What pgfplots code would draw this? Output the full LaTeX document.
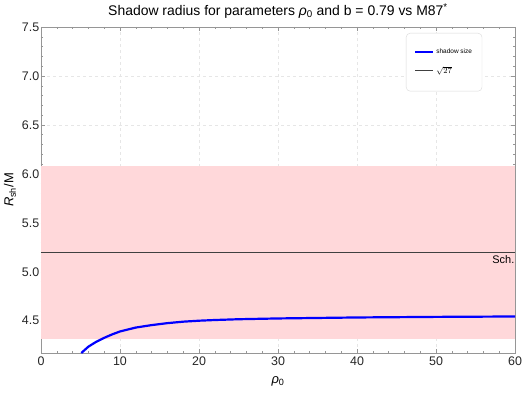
\documentclass[border=0pt]{standalone}
\usepackage{fontspec}
\setmainfont{Liberation Sans}
\usepackage{pgfplots}
\pgfplotsset{compat=1.18}
\definecolor{bandpink}{RGB}{255,216,218}
\definecolor{framegray}{RGB}{150,150,150}
\definecolor{gridgray}{RGB}{230,230,230}
\begin{document}
\begin{tikzpicture}
\begin{axis}[
  scale only axis,
  width=474bp, height=326bp,
  xmin=0, xmax=60, ymin=4.17, ymax=7.5,
  xtick={0,10,...,60},
  ytick={4.5,5.0,...,7.5},
  yticklabel style={/pgf/number format/fixed, /pgf/number format/fixed zerofill,
    /pgf/number format/precision=1, inner xsep=1.5bp},
  /pgf/number format/assume math mode=true,
  minor x tick num=4, minor y tick num=4,
  tick align=inside,
  major tick length=4bp, minor tick length=2.5bp,
  axis line style={framegray},
  every tick/.style={framegray},
  grid=major,
  major grid style={gridgray, dash pattern=on 3bp off 3bp},
  tick label style={font=\fontsize{12.5}{14}\selectfont, text=black!85},
  title={Shadow radius for parameters \textit{ρ}\textsubscript{0} and b = 0.79 vs M87\textsuperscript{*}},
  title style={font=\fontsize{14}{16}\selectfont, at={(axis description cs:0.5,1)}, anchor=center, yshift=10bp},
  xlabel={\textit{ρ}\textsubscript{0}},
  ylabel={\textit{R}\textsubscript{sh}/M},
  label style={font=\fontsize{13}{15}\selectfont},
  xlabel style={at={(axis description cs:0.5,0)}, anchor=center, yshift=-28bp},
  ylabel style={at={(axis description cs:-0.0655,0.5)}, anchor=center},
  legend style={at={(axis description cs:0.770,0.9816)}, anchor=north west,
    draw=black!15, rounded corners=4bp,
    font=\fontsize{6.5}{7.5}\selectfont, inner xsep=8bp, inner ysep=14bp, row sep=7bp,
    cells={anchor=west}},
  legend image code/.code={\draw[#1] (0bp,0bp) -- (18bp,0bp);},
  legend cell align=left,
]
\fill[bandpink] (axis cs:0,4.31) rectangle (axis cs:60,6.08);
\addplot[blue, line width=2.2bp, forget plot] coordinates {
 (5.1,4.17) (6,4.235) (7,4.285) (8,4.325) (9,4.36) (10,4.39) (11,4.41)
 (12,4.43) (14,4.455) (16,4.475) (18,4.49) (20,4.50) (22,4.507)
 (25,4.515) (30,4.523) (35,4.528) (40,4.533) (45,4.536) (50,4.539) (55,4.541) (60,4.543)
};
\addplot[black!75, line width=0.8bp, forget plot] coordinates {(0,5.196) (60,5.196)};
\addlegendimage{blue, line width=2.2bp}
\addlegendentry{shadow size}
\addlegendimage{black!75, line width=0.8bp}
\addlegendentry{\fontsize{8}{9}\selectfont$\sqrt{27}$}
\node[anchor=north east, font=\fontsize{11}{12}\selectfont, inner sep=0.5bp, yshift=-2.5bp] at (axis cs:60,5.196) {Sch.};
\end{axis}
\pgfresetboundingbox
\path[use as bounding box] ([shift={(-41bp,-39bp)}]current axis.south west) rectangle ([shift={(8bp,27bp)}]current axis.north east);
\end{tikzpicture}
\end{document}
